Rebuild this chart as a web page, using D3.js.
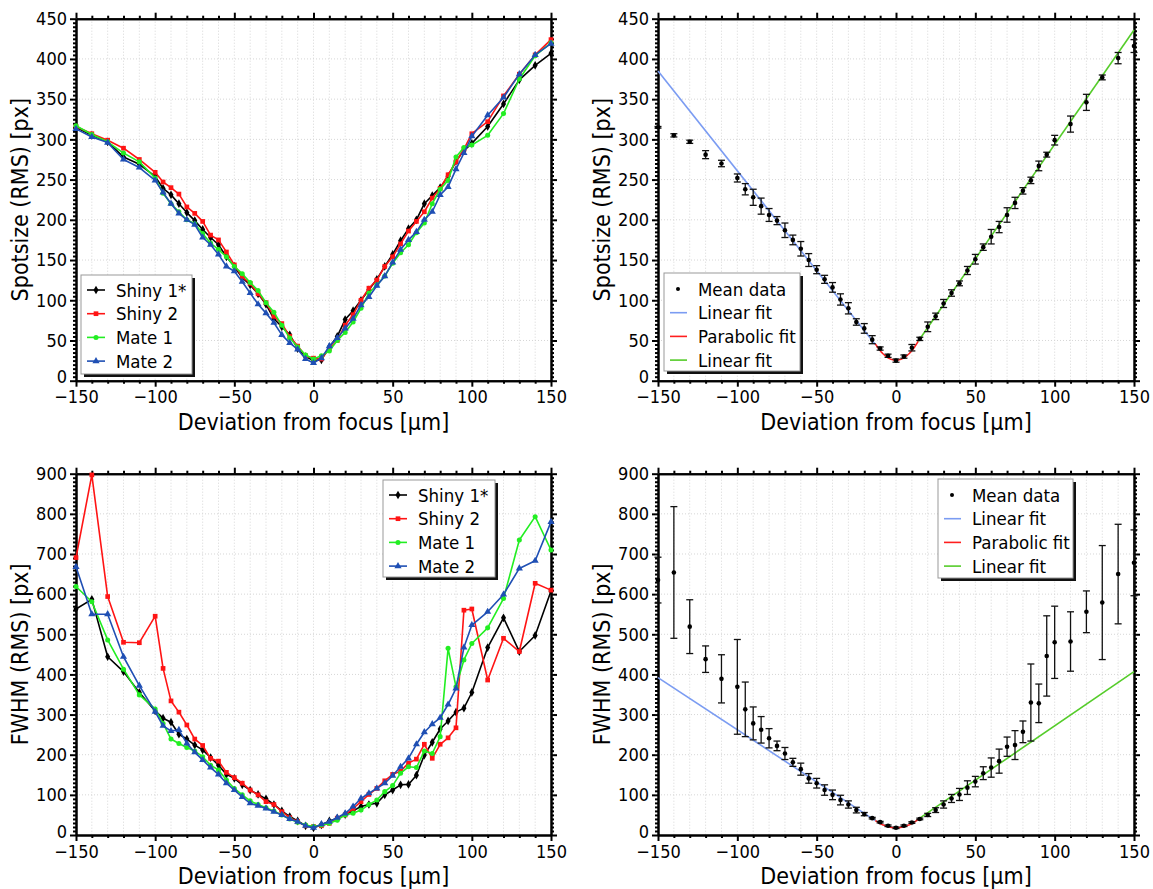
<!DOCTYPE html>
<html><head><meta charset="utf-8">
<script src="https://cdn.jsdelivr.net/npm/d3@7"></script>
<style>
body{margin:0;background:#fff}
svg text{font-family:"DejaVu Sans Condensed","DejaVu Sans",sans-serif;font-stretch:condensed;fill:#000}
</style>
</head><body>
<svg id="c" width="1153" height="889"></svg>
<script>
// ---------- data ----------
const xs = [-150,-140,-130,-120,-110,-100,-95,-90,-85,-80,-75,-70,-65,-60,-55,-50,-45,-40,-35,-30,-25,-20,-15,-10,-5,0,
            5,10,15,20,25,30,35,40,45,50,55,60,65,70,75,80,85,90,95,100,110,120,130,140,150];

const seriesNames = ["Shiny 1*","Shiny 2","Mate 1","Mate 2"];

const spotShiny1 = [315,305,297,278,269,254,239,231,220,209,199,188,178,169,154,142,128,119,108,95,77,67,57,40,30,25,
                    26,42,55,76,87,100,113,126,142,157,174,189,200,220,230,240,254,273,286,295,316,344,374,392,407];
const spotShiny2 = [316,307,299,289,275,259,247,240,232,216,208,198,181,175,160,144,129,121,108,97,80,71,55,43,31,28,
                    27,40,50,69,82,100,115,125,142,154,170,186,198,210,227,239,256,272,288,307,322,354,381,405,424];
const spotMate1  = [317,306,297,283,272,252,233,220,210,200,195,183,171,163,154,142,133,122,112,97,85,69,53,42,32,27,
                    31,37,50,60,73,90,109,119,130,146,159,169,184,196,220,238,249,278,290,293,305,332,375,404,420];
const spotMate2  = [313,303,296,275,265,249,234,220,208,200,194,178,169,157,142,136,123,109,95,84,72,57,47,39,27,22,
                    28,43,53,65,77,94,104,118,130,147,163,175,185,200,210,231,241,263,283,304,330,352,381,405,419];

const spotMean = [315,305,297,281,270,252,238,228,217,206,199,187,175,164,150,138,126,116,101,90,73,65,51,40,31,25,
                  30,41,52,67,80,96,109,121,137,151,166,179,191,206,221,236,249,267,281,299,319,346,377,401,416];
const spotErr  = [1,2,2,5,4,5,7,10,10,8,5,9,6,9,8,5,5,6,7,7,4,6,5,2,2,2,
                  2,4,2,6,4,5,4,3,5,6,4,9,7,9,7,4,4,6,3,6,10,10,3,7,8];

const fwShiny1 = [563,587,444,407,355,309,291,281,251,239,224,212,193,174,151,141,125,112,101,90,76,60,46,35,23,18,
                  25,35,42,51,60,71,76,79,100,112,125,126,149,199,231,264,284,306,316,355,467,541,457,497,608];
const fwShiny2 = [691,897,594,480,479,545,415,334,306,274,239,223,191,184,156,143,129,112,100,83,76,58,43,33,23,21,
                  23,29,42,50,66,83,101,116,135,151,159,179,189,226,191,226,242,267,560,563,386,490,457,627,610];
const fwMate1  = [619,581,486,413,349,314,278,239,228,218,209,195,174,162,137,116,100,85,76,68,60,50,40,32,25,21,
                  25,29,37,50,54,62,76,87,108,123,154,170,168,209,203,245,465,369,436,477,516,589,735,793,710];
const fwMate2  = [668,550,550,444,372,307,272,259,262,228,206,187,168,151,129,112,95,79,73,66,58,50,40,33,23,18,
                  27,33,43,54,71,91,104,116,129,148,170,191,226,256,276,292,325,365,467,523,556,599,664,683,780];

const fwMean = [635,654,519,438,389,369,313,278,262,241,222,203,181,164,141,129,112,100,87,76,62,52,42,32,23,18,
                23,31,40,50,62,76,91,101,118,133,154,168,184,220,224,257,330,328,446,480,482,556,579,650,678];
const fwErr  = [57,164,67,33,60,118,68,41,33,24,12,15,10,15,12,12,13,12,12,9,7,4,2,2,2,2,
                2,2,2,4,6,9,10,15,17,13,16,24,30,24,36,27,96,48,100,90,74,52,142,124,82];

// fits: linear fits as end points, parabolic fit as [c0, c2, xFrom, xTo]
const spotFitLeft  = [[-150,385],[-13,45]];
const spotFitParab = [25.5, 0.12, -13, 14];
const spotFitRight = [[14,49],[150,436]];
const fwFitLeft    = [[-150,392],[-13,36]];
const fwFitParab   = [18, 0.107, -13, 15];
const fwFitRight   = [[15,42],[150,407]];

const fitNames = ["Mean data","Linear fit","Parabolic fit","Linear fit"];

const xTicks = [-150,-100,-50,0,50,100,150];
const spotTicks = [0,50,100,150,200,250,300,350,400,450];
const fwTicks = [0,100,200,300,400,500,600,700,800,900];

// ---------- style ----------
const colors = ["#000000","#ff1414","#22ee22","#1f4fb4"];
const symbols = [d3.symbolDiamond, d3.symbolSquare, d3.symbolCircle, d3.symbolTriangle];
const symSizes = [22,22,20,22];
const fitColors = {left:"#7b9cf2", parab:"#ff1e1e", right:"#55cc2a"};

const svg = d3.select("#c");

function frame(p){
  const g = svg.append("g");
  const x = d3.scaleLinear().domain([-150,150]).range([p.l,p.r]);
  const y = d3.scaleLinear().domain([0,p.ymax]).range([p.b,p.t]);
  // grid
  g.append("g").selectAll("line").data(d3.range(-140,150,10)).join("line")
    .attr("x1",d=>x(d)).attr("x2",d=>x(d)).attr("y1",p.t).attr("y2",p.b)
    .attr("stroke","#d6d6d6").attr("stroke-width",1).attr("stroke-dasharray","1,2");
  g.append("g").selectAll("line").data(p.ticks.slice(1,-1)).join("line")
    .attr("x1",p.l).attr("x2",p.r).attr("y1",d=>y(d)).attr("y2",d=>y(d))
    .attr("stroke","#d6d6d6").attr("stroke-width",1).attr("stroke-dasharray","1,2");
  const step = p.ticks[1]-p.ticks[0];
  const yMinor = d3.range(0,p.ymax+0.001,step/10).filter(v=>Math.abs(v/step-Math.round(v/step))>1e-6);
  const xMinor = d3.range(-150,151,10).filter(v=>v%50!==0);
  const ax = [];
  const bx = g.append("g").attr("transform",`translate(0,${p.b})`).call(d3.axisBottom(x).tickValues(xTicks).tickSize(6).tickPadding(4).tickSizeOuter(0));
  ax.push(bx);
  ax.push(g.append("g").attr("transform",`translate(0,${p.b})`).call(d3.axisBottom(x).tickValues(xMinor).tickSize(3).tickFormat("").tickSizeOuter(0)));
  ax.push(g.append("g").attr("transform",`translate(0,${p.t})`).call(d3.axisTop(x).tickValues(xTicks).tickSize(6).tickFormat("").tickSizeOuter(0)));
  ax.push(g.append("g").attr("transform",`translate(0,${p.t})`).call(d3.axisTop(x).tickValues(xMinor).tickSize(3).tickFormat("").tickSizeOuter(0)));
  const ly = g.append("g").attr("transform",`translate(${p.l},0)`).call(d3.axisLeft(y).tickValues(p.ticks).tickSize(6).tickPadding(3).tickSizeOuter(0));
  ax.push(ly);
  ax.push(g.append("g").attr("transform",`translate(${p.l},0)`).call(d3.axisLeft(y).tickValues(yMinor).tickSize(3).tickFormat("").tickSizeOuter(0)));
  ax.push(g.append("g").attr("transform",`translate(${p.r},0)`).call(d3.axisRight(y).tickValues(p.ticks).tickSize(6).tickFormat("").tickSizeOuter(0)));
  ax.push(g.append("g").attr("transform",`translate(${p.r},0)`).call(d3.axisRight(y).tickValues(yMinor).tickSize(3).tickFormat("").tickSizeOuter(0)));
  ax.forEach(a=>{
    a.selectAll(".domain").attr("stroke","#000").attr("stroke-width",2);
    a.selectAll(".tick line").attr("stroke","#000").attr("stroke-width",2);
    a.selectAll("text").attr("font-size",18).attr("fill","#000");
    a.attr("font-family",null).attr("font-size",18);
  });
  // keep the "0" label of the y axis clear of the "-150" label below it
  ly.selectAll(".tick text").filter(d=>d===0).attr("dy","0.12em");
  // titles
  g.append("text").attr("x",(p.l+p.r)/2).attr("y",p.b+49).attr("text-anchor","middle")
    .attr("font-size",23).text("Deviation from focus [µm]");
  g.append("text").attr("transform",`translate(${p.l-48},${(p.t+p.b)/2}) rotate(-90)`)
    .attr("text-anchor","middle").attr("font-size",23).text(p.ylabel);
  return {g,x,y};
}

function legendBox(g, bx, by, w, h){
  g.append("rect").attr("x",bx+3).attr("y",by+3).attr("width",w).attr("height",h).attr("fill","#111");
  g.append("rect").attr("x",bx).attr("y",by).attr("width",w).attr("height",h).attr("fill","#fff")
    .attr("stroke","#999").attr("stroke-width",1);
}

function seriesPanel(p, data, lg){
  const {g,x,y} = frame(p);
  const line = d3.line().x((d,i)=>x(xs[i])).y(d=>y(d));
  data.forEach((s,k)=>{
    g.append("path").datum(s).attr("d",line).attr("fill","none")
      .attr("stroke",colors[k]).attr("stroke-width",1.6).attr("stroke-linejoin","round");
    g.append("g").selectAll("path").data(s).join("path")
      .attr("transform",(d,i)=>`translate(${x(xs[i])},${y(d)})`)
      .attr("d",d3.symbol().type(symbols[k]).size(symSizes[k])).attr("fill",colors[k]);
  });
  legendBox(g, lg.x, lg.y, lg.w, lg.h);
  seriesNames.forEach((n,k)=>{
    const cy = lg.y + 15 + k*23.7;
    g.append("line").attr("x1",lg.x+6).attr("x2",lg.x+24).attr("y1",cy).attr("y2",cy)
      .attr("stroke",colors[k]).attr("stroke-width",1.6);
    g.append("path").attr("transform",`translate(${lg.x+15},${cy})`)
      .attr("d",d3.symbol().type(symbols[k]).size(symSizes[k])).attr("fill",colors[k]);
    g.append("text").attr("x",lg.x+35).attr("y",cy).attr("dy","0.36em").attr("font-size",18.5).text(n);
  });
}

function fitPanel(p, mean, err, fl, fp, fr, lg){
  const {g,x,y} = frame(p);
  const ln = d3.line().x(d=>x(d[0])).y(d=>y(d[1]));
  g.append("path").datum(fl).attr("d",ln).attr("fill","none").attr("stroke",fitColors.left).attr("stroke-width",1.6);
  const pts = d3.range(fp[2], fp[3]+0.001, 0.5).map(v=>[v, fp[0]+fp[1]*v*v]);
  g.append("path").datum(pts).attr("d",ln).attr("fill","none").attr("stroke",fitColors.parab).attr("stroke-width",1.6);
  g.append("path").datum(fr).attr("d",ln).attr("fill","none").attr("stroke",fitColors.right).attr("stroke-width",1.6);
  const eb = g.append("g").attr("stroke","#111").attr("stroke-width",1.3);
  mean.forEach((m,i)=>{
    const cx = x(xs[i]), yt = y(m+err[i]), yb = y(m-err[i]);
    eb.append("line").attr("x1",cx).attr("x2",cx).attr("y1",yt).attr("y2",yb);
    eb.append("line").attr("x1",cx-3.5).attr("x2",cx+3.5).attr("y1",yt).attr("y2",yt);
    eb.append("line").attr("x1",cx-3.5).attr("x2",cx+3.5).attr("y1",yb).attr("y2",yb);
  });
  g.append("g").selectAll("circle").data(mean).join("circle")
    .attr("cx",(d,i)=>x(xs[i])).attr("cy",d=>y(d)).attr("r",2.3).attr("fill","#000");
  legendBox(g, lg.x, lg.y, lg.w, lg.h);
  const lc = [null, fitColors.left, fitColors.parab, fitColors.right];
  fitNames.forEach((n,k)=>{
    const cy = lg.y + 16 + k*23.7;
    if(k===0){
      g.append("circle").attr("cx",lg.x+14).attr("cy",cy).attr("r",2).attr("fill","#000");
    } else {
      g.append("line").attr("x1",lg.x+6).attr("x2",lg.x+23).attr("y1",cy).attr("y2",cy)
        .attr("stroke",lc[k]).attr("stroke-width",1.6);
    }
    g.append("text").attr("x",lg.x+34).attr("y",cy).attr("dy","0.36em").attr("font-size",18.5).text(n);
  });
}

const TL = {l:76,r:551,t:18.7,b:380.7,ymax:450,ticks:spotTicks,ylabel:"Spotsize (RMS) [px]"};
const TR = {l:658,r:1134,t:18.7,b:380.7,ymax:450,ticks:spotTicks,ylabel:"Spotsize (RMS) [px]"};
const BL = {l:76,r:551,t:473.7,b:835,ymax:900,ticks:fwTicks,ylabel:"FWHM (RMS) [px]"};
const BR = {l:658,r:1134,t:473.7,b:835,ymax:900,ticks:fwTicks,ylabel:"FWHM (RMS) [px]"};

seriesPanel(TL, [spotShiny1,spotShiny2,spotMate1,spotMate2], {x:81,y:275,w:111,h:99});
fitPanel(TR, spotMean, spotErr, spotFitLeft, spotFitParab, spotFitRight, {x:664,y:273,w:136,h:98});
seriesPanel(BL, [fwShiny1,fwShiny2,fwMate1,fwMate2], {x:383,y:480,w:112,h:97});
fitPanel(BR, fwMean, fwErr, fwFitLeft, fwFitParab, fwFitRight, {x:938,y:479,w:135,h:99});
</script>
</body></html>
